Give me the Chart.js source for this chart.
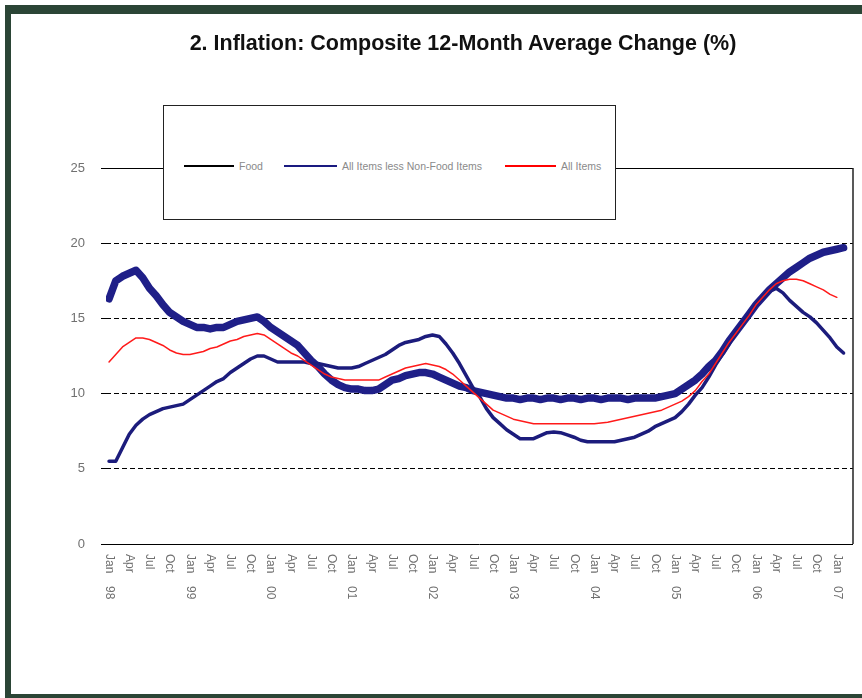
<!DOCTYPE html>
<html>
<head>
<meta charset="utf-8">
<script src="https://cdn.jsdelivr.net/npm/chart.js@4.4.1/dist/chart.umd.min.js"></script>
<style>
body{margin:0;background:#fff;font-family:"Liberation Sans",Arial,sans-serif}
#wrap{position:relative;width:862px;height:698px;overflow:hidden}
#frame{position:absolute;left:5px;top:5px;width:900px;height:680px;border-top:9px solid #2b4536;border-left:6px solid #2b4536;border-bottom:4px solid #2b4536}
#title{position:absolute;left:0;top:31px;width:926px;text-align:center;font-weight:bold;font-size:21.5px;line-height:25px;color:#111;white-space:nowrap}
#chart{position:absolute;left:0;top:0}
#legend{position:absolute;left:163px;top:105px;width:451px;height:113px;border:1.5px solid #222;background:#fff}
.item{position:absolute;top:54px;height:12px;font-size:10.5px;color:#8a8a8a;white-space:nowrap;line-height:12px}
.sw{position:absolute;top:5px}
</style>
</head>
<body>
<div id="wrap">
<div id="frame"></div>
<canvas id="chart" width="862" height="698"></canvas>
<div id="title">2. Inflation: Composite 12-Month Average Change (%)</div>
<div id="legend">
<div class="sw" style="left:20px;top:59px;width:50px;height:1.5px;background:#000"></div>
<div class="item" style="left:75px">Food</div>
<div class="sw" style="left:120px;top:59px;width:53px;height:2px;background:#1a1a80"></div>
<div class="item" style="left:178px">All Items less Non-Food Items</div>
<div class="sw" style="left:341px;top:59px;width:51px;height:1.5px;background:#ff0000"></div>
<div class="item" style="left:397px">All Items</div>
</div>
</div>
<script>

const quarterLabels=["Jan","Apr","Jul","Oct"]
const yearLabels=["98","99","00","01","02","03","04","05","06","07"]

// thick navy line
const coreValues=[16.3,17.5,17.8,18.0,18.2,17.7,17.0,16.5,15.9,15.4,
15.1,14.8,14.6,14.4,14.4,14.3,14.4,14.4,14.6,14.8,
14.9,15.0,15.1,14.8,14.4,14.1,13.8,13.5,13.2,12.7,
12.2,11.8,11.3,10.9,10.6,10.4,10.3,10.3,10.2,10.2,
10.3,10.6,10.9,11.0,11.2,11.3,11.4,11.4,11.3,11.1,
10.9,10.7,10.5,10.4,10.2,10.1,10.0,9.9,9.8,9.7,
9.7,9.6,9.7,9.7,9.6,9.7,9.7,9.6,9.7,9.7,
9.6,9.7,9.7,9.6,9.7,9.7,9.7,9.6,9.7,9.7,
9.7,9.7,9.8,9.9,10.0,10.3,10.6,10.9,11.3,11.8,
12.2,12.8,13.5,14.1,14.7,15.3,15.9,16.4,16.9,17.3,
17.7,18.1,18.4,18.7,19.0,19.2,19.4,19.5,19.6,19.7]

// thin navy line
const foodValues=[5.5,5.5,6.4,7.3,7.9,8.3,8.6,8.8,9.0,9.1,
9.2,9.3,9.6,9.9,10.2,10.5,10.8,11.0,11.4,11.7,
12.0,12.3,12.5,12.5,12.3,12.1,12.1,12.1,12.1,12.1,
12.0,12.0,11.9,11.8,11.7,11.7,11.7,11.8,12.0,12.2,
12.4,12.6,12.9,13.2,13.4,13.5,13.6,13.8,13.9,13.8,
13.3,12.7,12.0,11.2,10.4,9.8,9.0,8.4,8.0,7.6,
7.3,7.0,7.0,7.0,7.2,7.4,7.45,7.4,7.25,7.1,
6.9,6.8,6.8,6.8,6.8,6.8,6.9,7.0,7.1,7.3,
7.5,7.8,8.0,8.2,8.4,8.8,9.3,9.9,10.4,11.1,
11.9,12.6,13.3,14.0,14.7,15.3,15.9,16.4,16.8,17.0,
16.7,16.2,15.8,15.4,15.1,14.7,14.2,13.7,13.1,12.7]

// red line
const allItemsValues=[12.1,12.6,13.1,13.4,13.7,13.7,13.6,13.4,13.2,12.9,
12.7,12.6,12.6,12.7,12.8,13.0,13.1,13.3,13.5,13.6,
13.8,13.9,14.0,13.9,13.6,13.3,13.0,12.7,12.5,12.2,
11.9,11.6,11.3,11.1,11.0,10.9,10.9,10.9,10.9,10.9,
10.9,11.1,11.3,11.5,11.7,11.8,11.9,12.0,11.9,11.8,
11.6,11.3,10.9,10.5,10.1,9.7,9.3,8.9,8.7,8.5,
8.3,8.2,8.1,8.0,8.0,8.0,8.0,8.0,8.0,8.0,
8.0,8.0,8.0,8.05,8.1,8.2,8.3,8.4,8.5,8.6,
8.7,8.8,8.9,9.1,9.3,9.5,9.8,10.2,10.8,11.3,
12.0,12.7,13.4,14.0,14.6,15.2,15.9,16.4,16.9,17.3,
17.5,17.6,17.6,17.5,17.3,17.1,16.9,16.6,16.4,null]

function points(values){
return values.map((v,i)=>({x:i,y:v}))
}

const frameLines={
id:"frameLines",
afterDraw(chart){
const c=chart.ctx
const a=chart.chartArea
c.save()
c.strokeStyle="#222"
c.lineWidth=1.5
c.beginPath()
c.moveTo(a.right,a.top)
c.lineTo(a.right,a.bottom)
c.stroke()
c.restore()
}
}

// month / year labels, rotated to read downward
const xLabels={
id:"xLabels",
afterDraw(chart){
const c=chart.ctx
const xs=chart.scales.x
c.save()
c.fillStyle="#707070"
c.font="12px 'Liberation Sans'"
c.textBaseline="middle"
for(let m=0;m<coreValues.length;m+=3){
const px=xs.getPixelForValue(m)
c.save()
c.translate(px,554)
c.rotate(Math.PI/2)
c.fillText(quarterLabels[(m/3)%4],0,0)
if(m%12==0) c.fillText(yearLabels[m/12],32,0)
c.restore()
}
c.restore()
}
}

new Chart(document.getElementById("chart"),{

type:"line",

data:{
datasets:[
{data:points(allItemsValues),borderColor:"#ff1a1a",borderWidth:1.5},
{data:points(foodValues),borderColor:"#1c1c7c",borderWidth:3.5},
{data:points(coreValues),borderColor:"#1f1f88",borderWidth:7.5}
]
},

options:{
responsive:false,
animation:false,
layout:{padding:{top:168,right:9,left:0,bottom:0}},
elements:{point:{radius:0},line:{tension:0,borderCapStyle:"round",borderJoinStyle:"round"}},
plugins:{legend:{display:false},tooltip:{enabled:false}},
scales:{
x:{
type:"linear",
min:-0.45,
max:110.4,
ticks:{display:false},
grid:{display:false},
border:{display:false},
afterFit:s=>{s.height=154}
},
y:{
min:0,
max:25,
ticks:{stepSize:5,color:"#707070",padding:16,font:{family:"Liberation Sans",size:13}},
grid:{color:"#000",lineWidth:1,tickLength:5,tickColor:"#000"},
border:{display:false,dash:ctx=>(ctx.tick&&(ctx.tick.value==0||ctx.tick.value==25))?[]:[5,3]},
afterFit:s=>{s.width=106}
}
}
},

plugins:[frameLines,xLabels]

})

</script>
</body>
</html>
